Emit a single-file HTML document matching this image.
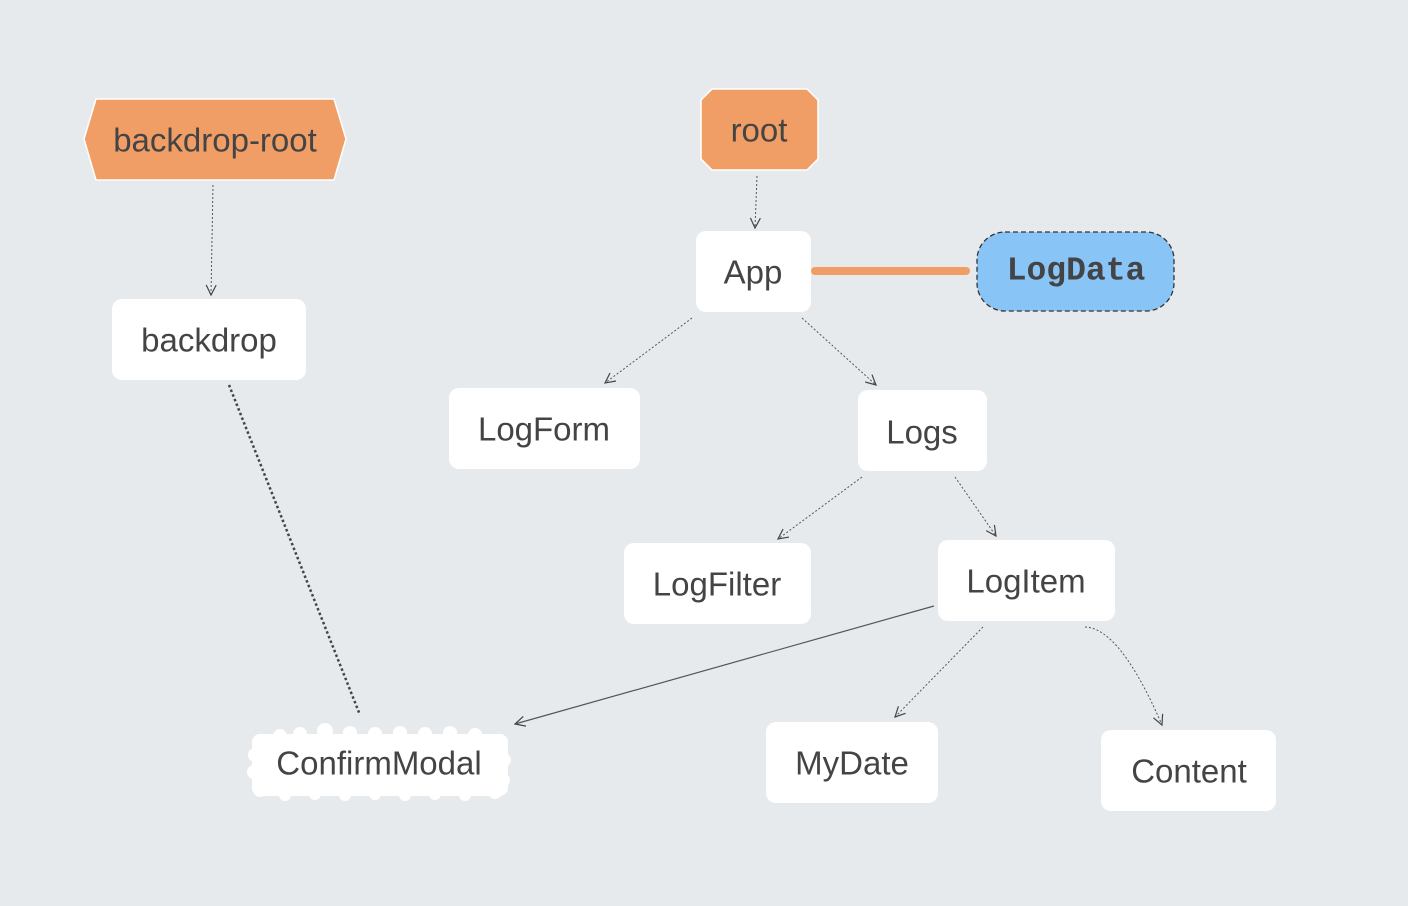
<!DOCTYPE html>
<html><head><meta charset="utf-8"><style>
html,body{margin:0;padding:0;background:#e7eaed;}
svg{display:block}
text{font-family:"Liberation Sans",sans-serif;fill:#444;font-size:33px;text-anchor:middle;dominant-baseline:central}
</style></head><body>
<svg width="1408" height="906" viewBox="0 0 1408 906">
<defs>
<marker id="a" markerWidth="14" markerHeight="14" refX="11" refY="6" orient="auto" markerUnits="userSpaceOnUse">
<path d="M1,1 L11,6 L1,11" fill="none" stroke="#444" stroke-width="1.2"/></marker>
</defs>
<rect width="1408" height="906" fill="#e7eaed"/>
<g fill="none" stroke="#555" stroke-width="1" stroke-dasharray="2,2">
<line x1="213" y1="185" x2="211" y2="295" marker-end="url(#a)"/>
<line x1="757" y1="176" x2="755" y2="228" marker-end="url(#a)"/>
<line x1="692" y1="318" x2="605" y2="383" marker-end="url(#a)"/>
<line x1="802" y1="318" x2="876" y2="385" marker-end="url(#a)"/>
<line x1="862" y1="477" x2="778" y2="539" marker-end="url(#a)"/>
<line x1="955" y1="477" x2="996" y2="536" marker-end="url(#a)"/>
<line x1="983" y1="627" x2="895" y2="717" marker-end="url(#a)"/>
<path d="M1085,627 Q1120,628 1162,725" marker-end="url(#a)"/>
</g>
<line x1="934" y1="606" x2="515" y2="724" stroke="#555" stroke-width="1.2" marker-end="url(#a)"/>
<line x1="229" y1="385" x2="360" y2="715" stroke="#444" stroke-width="2.5" stroke-dasharray="2.5,2.5"/>
<line x1="815" y1="271" x2="966" y2="271" stroke="#f19e66" stroke-width="8" stroke-linecap="round"/>
<polygon points="96,99 334,99 346,139 334,180 96,180 84,139" fill="#f19e66" stroke="#fff" stroke-width="1.5"/>
<text x="215" y="140">backdrop-root</text>
<polygon points="712,89 807,89 818,100 818,159 807,170 712,170 701,159 701,100" fill="#f19e66" stroke="#fff" stroke-width="1.5"/>
<text x="759" y="130">root</text>
<g fill="#fff">
<rect x="696" y="231" width="115" height="81" rx="10"/>
<rect x="112" y="299" width="194" height="81" rx="10"/>
<rect x="449" y="388" width="191" height="81" rx="10"/>
<rect x="858" y="390" width="129" height="81" rx="10"/>
<rect x="624" y="543" width="187" height="81" rx="10"/>
<rect x="938" y="540" width="177" height="81" rx="10"/>
<rect x="766" y="722" width="172" height="81" rx="10"/>
<rect x="1101" y="730" width="175" height="81" rx="10"/>
</g>
<rect x="977" y="232" width="197" height="79" rx="28" fill="#89c4f7" stroke="#333" stroke-width="1.3" stroke-dasharray="5,3"/>
<text x="1076" y="271" style="font-family:'Liberation Mono',monospace;font-weight:bold;font-size:33px">LogData</text>
<g fill="#fff">
<rect x="252" y="734" width="256" height="62" rx="8"/>
<circle cx="262" cy="742" r="7"/><circle cx="280" cy="736" r="7"/><circle cx="300" cy="734" r="7"/><circle cx="325" cy="731" r="8"/><circle cx="350" cy="733" r="7"/><circle cx="375" cy="734" r="7"/><circle cx="400" cy="733" r="7"/><circle cx="425" cy="734" r="7"/><circle cx="450" cy="733" r="7"/><circle cx="475" cy="735" r="7"/><circle cx="500" cy="742" r="7"/><circle cx="504" cy="760" r="7"/><circle cx="503" cy="780" r="7"/><circle cx="495" cy="792" r="7"/><circle cx="465" cy="795" r="6"/><circle cx="435" cy="794" r="6"/><circle cx="405" cy="795" r="6"/><circle cx="375" cy="794" r="6"/><circle cx="345" cy="795" r="6"/><circle cx="315" cy="794" r="6"/><circle cx="285" cy="795" r="6"/><circle cx="260" cy="790" r="7"/><circle cx="254" cy="772" r="7"/><circle cx="255" cy="755" r="7"/>
</g>
<text x="753" y="272">App</text>
<text x="209" y="340">backdrop</text>
<text x="544" y="429">LogForm</text>
<text x="922" y="432">Logs</text>
<text x="717" y="584">LogFilter</text>
<text x="1026" y="581">LogItem</text>
<text x="379" y="763">ConfirmModal</text>
<text x="852" y="763">MyDate</text>
<text x="1189" y="771">Content</text>
</svg>
</body></html>
